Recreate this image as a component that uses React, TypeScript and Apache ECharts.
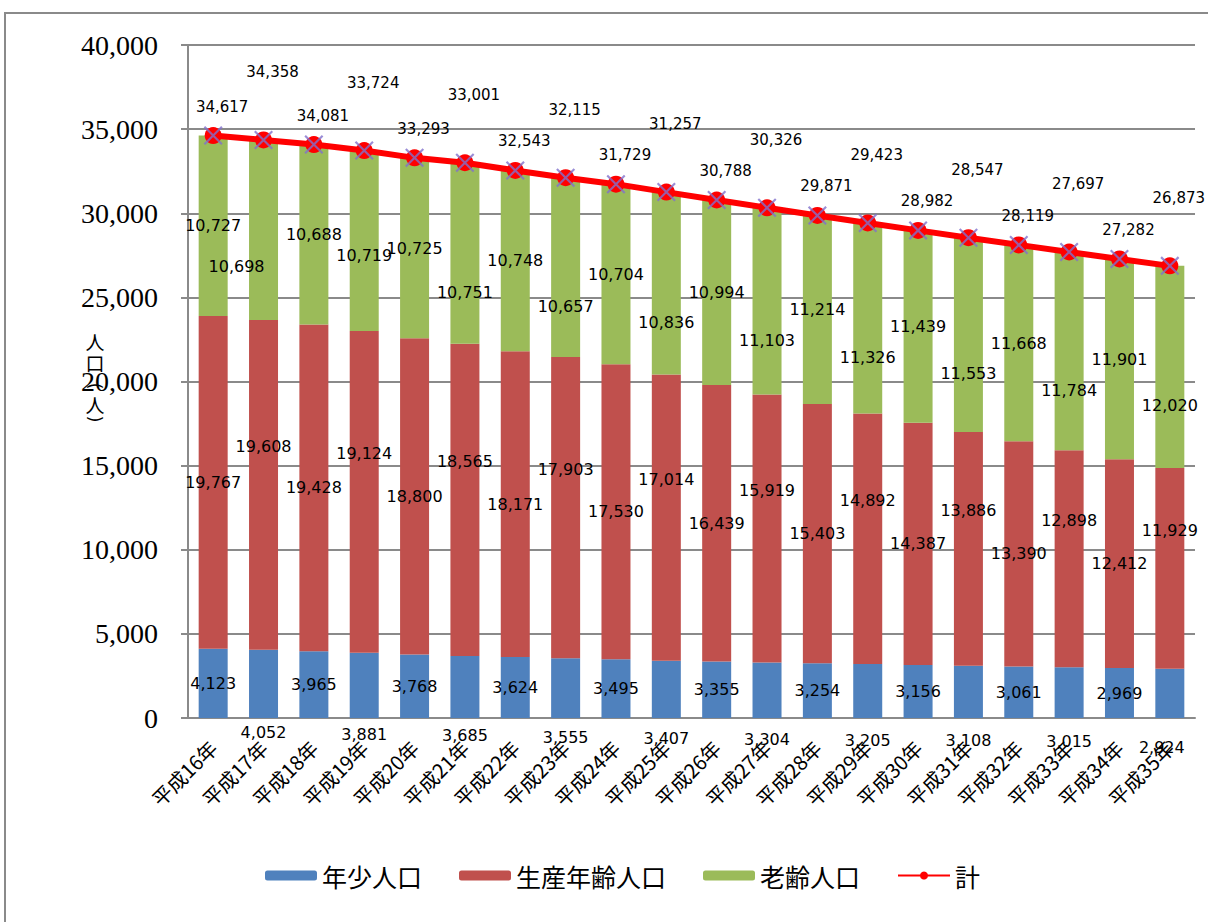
import React, { useEffect, useRef } from 'react';
import * as echarts from 'echarts';

const categories = [
  '平成16年', '平成17年', '平成18年', '平成19年', '平成20年', '平成21年', '平成22年',
  '平成23年', '平成24年', '平成25年', '平成26年', '平成27年', '平成28年', '平成29年',
  '平成30年', '平成31年', '平成32年', '平成33年', '平成34年', '平成35年',
];
const youth = [4123, 4052, 3965, 3881, 3768, 3685, 3624, 3555, 3495, 3407, 3355, 3304, 3254, 3205, 3156, 3108, 3061, 3015, 2969, 2924];
const working = [19767, 19608, 19428, 19124, 18800, 18565, 18171, 17903, 17530, 17014, 16439, 15919, 15403, 14892, 14387, 13886, 13390, 12898, 12412, 11929];
const elderly = [10727, 10698, 10688, 10719, 10725, 10751, 10748, 10657, 10704, 10836, 10994, 11103, 11214, 11326, 11439, 11553, 11668, 11784, 11901, 12020];
const total = [34617, 34358, 34081, 33724, 33293, 33001, 32543, 32115, 31729, 31257, 30788, 30326, 29871, 29423, 28982, 28547, 28119, 27697, 27282, 26873];
const seriesNames = ['年少人口', '生産年齢人口', '老齢人口', '計'];
const yAxisTitle = ['人', '口', '(', '人', ')'];

const fmt = (v: number) => v.toLocaleString('en-US');

export default function App() {
  const ref = useRef<HTMLDivElement>(null);
  useEffect(() => {
    const chart = echarts.init(ref.current!, null, { renderer: 'svg' });
    const labelFont = { fontFamily: 'DejaVu Sans', fontSize: 16, color: '#000' };
    const last = youth.length - 1;

    const blueOffset = (i: number) => {
      if (i === last) return [-8, 54];
      return i % 2 === 1 ? [0, 49] : [0, 0];
    };
    const redOffset = (i: number) => (i % 2 === 1 ? [0, -38] : [0, 0]);
    const greenOffset = (i: number) => {
      if (i === 1) return [-27, 37];
      if (i === 3) return [0, 15];
      return i % 2 === 1 ? [0, 39] : [0, 0];
    };
    const totalOffset = (i: number) => (i % 2 === 1 ? [9, -47] : [9, -8]);

    const barItems = (vals: number[], off: (i: number) => number[]) =>
      vals.map((v, i) => ({ value: v, label: { offset: off(i) } }));

    const barLabel = {
      show: true,
      position: 'inside',
      ...labelFont,
      formatter: (p: any) => fmt(p.value),
    };

    const gray = '#8a8a8a';
    const xShape =
      'path://M0,0.8 L0.8,0 L10,9.2 L9.2,10 Z M9.2,0 L10,0.8 L0.8,10 L0,9.2 Z';

    const graphics: any[] = [
      {
        type: 'rect',
        shape: { x: 5, y: 13, width: 1300, height: 1000 },
        style: { fill: 'none', stroke: gray, lineWidth: 2 },
        silent: true,
      },
    ];
    const titleYs = [341, 362, 386, 404, 419];
    yAxisTitle.forEach((ch, i) => {
      const isParen = ch === '(' || ch === ')';
      graphics.push({
        type: 'text',
        x: 95,
        y: titleYs[i],
        rotation: isParen ? -Math.PI / 2 : 0,
        style: {
          text: ch,
          fontFamily: isParen ? 'DejaVu Sans' : 'Noto Sans CJK JP',
          fontSize: isParen ? 17 : 19,
          fill: '#000',
          align: 'center',
          verticalAlign: 'middle',
        },
      });
    });

    chart.setOption({
      animation: false,
      backgroundColor: '#fff',
      grid: { left: 188, right: 13, top: 45, bottom: 204, containLabel: false },
      legend: {
        data: seriesNames,
        top: 858,
        left: 260,
        itemWidth: 52,
        itemHeight: 10,
        itemGap: 37,
        textStyle: { fontFamily: 'Noto Sans CJK JP', fontSize: 25, color: '#000' },
      },
      graphic: graphics,
      xAxis: {
        type: 'category',
        data: categories,
        axisLine: { show: true, lineStyle: { color: gray, width: 2 } },
        axisTick: { show: false },
        axisLabel: {
          rotate: 45,
          margin: 26,
          interval: 0,
          fontFamily: 'Noto Sans CJK JP',
          fontSize: 20,
          color: '#000',
        },
      },
      yAxis: {
        type: 'value',
        min: 0,
        max: 40000,
        interval: 5000,
        axisLine: { show: true, lineStyle: { color: gray, width: 2 } },
        axisTick: { show: true, inside: false, length: 7, lineStyle: { color: gray, width: 2 } },
        splitLine: { show: true, lineStyle: { color: gray, width: 2 } },
        axisLabel: {
          margin: 30,
          fontFamily: 'Liberation Serif',
          fontSize: 28,
          color: '#000',
          formatter: (v: number) => fmt(v),
        },
      },
      series: [
        {
          name: seriesNames[0],
          type: 'bar',
          stack: 'pop',
          barWidth: 29,
          itemStyle: { color: '#4F81BD' },
          label: barLabel,
          data: barItems(youth, blueOffset),
        },
        {
          name: seriesNames[1],
          type: 'bar',
          stack: 'pop',
          barWidth: 29,
          itemStyle: { color: '#C0504D' },
          label: barLabel,
          data: barItems(working, redOffset),
        },
        {
          name: seriesNames[2],
          type: 'bar',
          stack: 'pop',
          barWidth: 29,
          itemStyle: { color: '#9BBB59' },
          label: barLabel,
          data: barItems(elderly, greenOffset),
        },
        {
          name: seriesNames[3],
          type: 'line',
          z: 5,
          symbol: 'circle',
          symbolSize: 17,
          lineStyle: { color: '#FF0000', width: 6 },
          itemStyle: { color: '#FF0000' },
          label: {
            show: true,
            position: 'top',
            fontFamily: 'DejaVu Sans',
            fontSize: 15,
            color: '#000',
            formatter: (p: any) => fmt(p.value),
          },
          data: total.map((v, i) => ({ value: v, label: { offset: totalOffset(i) } })),
        },
        {
          name: '計マーカー',
          type: 'scatter',
          z: 6,
          symbol: xShape,
          symbolSize: 19,
          itemStyle: { color: '#8170CC' },
          silent: true,
          data: total,
        },
      ],
    });
    return () => chart.dispose();
  }, []);
  return (
    <div
      ref={ref}
      style={{ position: 'fixed', left: 0, top: 0, width: 1208, height: 922, background: '#fff' }}
    />
  );
}
